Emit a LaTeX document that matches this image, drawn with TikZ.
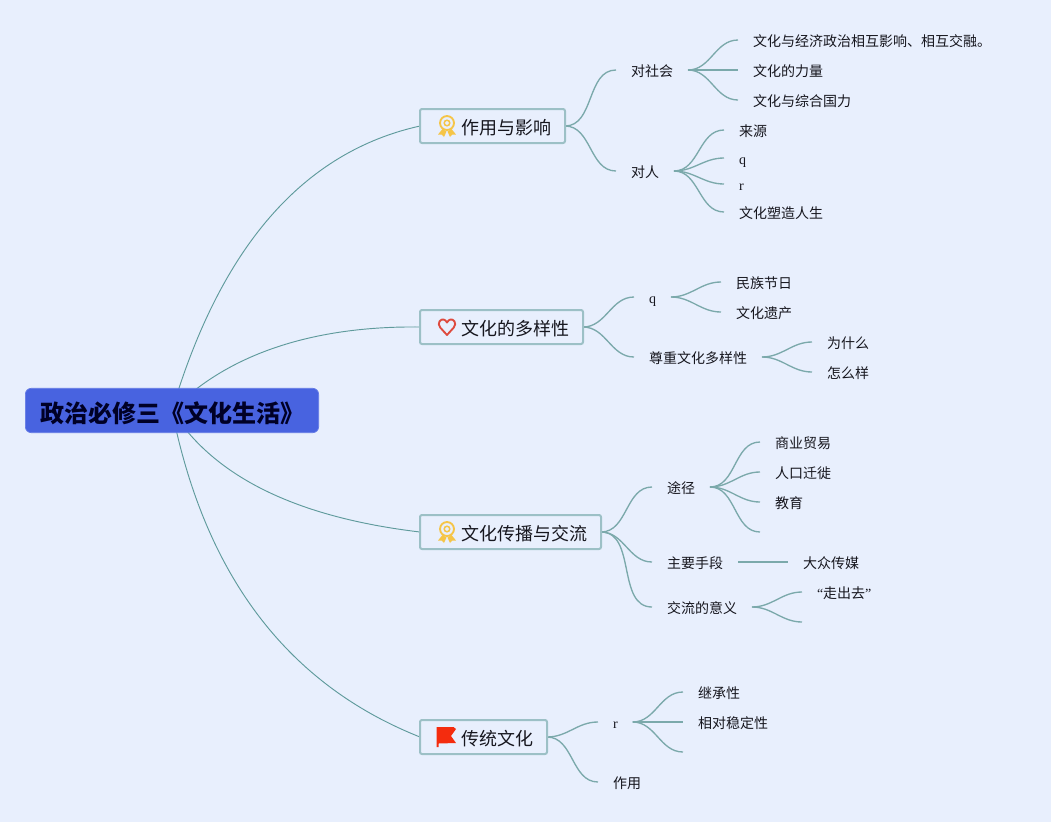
\documentclass[tikz,border=0pt]{standalone}
\usepackage{fontspec}
\usetikzlibrary{backgrounds}
\newfontfamily\cjk{Noto Sans CJK SC}
\newfontfamily\latinf{Liberation Serif}
\definecolor{bgc}{HTML}{E8EFFD}
\definecolor{linec}{HTML}{7BA9AB}
\definecolor{rootl}{HTML}{5F9A9C}
\definecolor{boxc}{HTML}{9CC0C6}
\definecolor{rootc}{HTML}{4863E0}
\definecolor{inkc}{HTML}{16161E}
\definecolor{medalc}{HTML}{F5C548}
\definecolor{heartc}{HTML}{DE4A3E}
\definecolor{flagc}{HTML}{F42C0E}
\tikzset{
  x=0.75pt,y=-0.75pt,
  conn/.style={draw=linec,line width=1pt},
  rootconn/.style={draw=rootl,line width=0.7pt},
  item/.style={anchor=west,font=\cjk\fontsize{10.5pt}{12pt}\selectfont,text=inkc,
    inner xsep=11.25pt,inner ysep=0pt,outer sep=0pt,text height=9.45pt,text depth=0pt},
  mainbox/.style={anchor=west,draw=boxc,fill=bgc,line width=1.5pt,rounded corners=1.5pt,
    font=\cjk\fontsize{13.5pt}{16pt}\selectfont,text=inkc,
    inner xsep=10.5pt,inner ysep=0pt,outer sep=0pt,minimum height=25.5pt,
    text height=13.3pt,text depth=0pt},
  rootbox/.style={draw=rootc!85!white,fill=rootc,line width=0.5pt,rounded corners=4.5pt,
    font=\cjk\bfseries\fontsize{18pt}{21pt}\selectfont,text=black!85!blue,
    inner xsep=0pt,inner ysep=0pt,outer sep=0pt,minimum height=33.3pt,minimum width=220pt,
    text height=17.4pt,text depth=0pt},
  medal/.pic={
    \draw[medalc,line width=1.4pt] (0,-3) circle[radius=7];
    \draw[medalc,line width=1.1pt] (0,-3) circle[radius=2.8];
    \fill[medalc,line join=round] (-4.5,3) -- (-9,8.5) -- (-5.2,8.6) -- (-3,11) -- (-0.5,5.5) -- cycle;
    \fill[medalc,line join=round] (4.5,3) -- (9,8.5) -- (5.2,8.6) -- (3,11) -- (0.5,5.5) -- cycle;
  },
  heartic/.pic={
    \draw[heartc,line width=1.4pt,line join=round] (0,8) -- (-6.8,0.5)
      .. controls (-10.5,-4) and (-6,-8.5) .. (-3.5,-7.5)
      .. controls (-2,-7.2) and (-0.8,-6) .. (0,-4.5)
      .. controls (0.8,-6) and (2,-7.2) .. (3.5,-7.5)
      .. controls (6,-8.5) and (10.5,-4) .. (6.8,0.5) -- cycle;
  },
  flagic/.pic={
    \fill[flagc] (-10.3,-10) -- (6.5,-10) -- (9,-8) -- (4,-1) -- (9,6) -- (-8.5,6.5)
      -- (-8.5,10) -- (-10.3,10) -- cycle;
  },
}
\newcommand{\lnk}[2]{\draw[conn] (#1) to[out=0,in=180] (#2);}
\begin{document}
\begin{tikzpicture}
\useasboundingbox (0,0) rectangle (1051,822);

% root and main topics
\node[rootbox] (root) at (172,410.5) {\hspace*{1.5pt}政治必修三《文化生活》};
\node[mainbox] (m1) at (420,126) {\hspace*{20.25pt}作用与影响};
\node[mainbox] (m2) at (420,327) {\hspace*{20.25pt}文化的多样性};
\node[mainbox] (m3) at (420,532) {\hspace*{20.25pt}文化传播与交流};
\node[mainbox] (m4) at (420,737) {\hspace*{20.25pt}传统文化};
\path (m1.west) ++(27,0) pic {medal};
\path (m2.west) ++(27,0) pic {heartic};
\path (m3.west) ++(27,0) pic {medal};
\path (m4.west) ++(27,0) pic {flagic};

% branch 1
\node[item] (a1) at (616,70) {对社会};
\node[item] (a2) at (616,171) {对人};
\node[item] (a11) at (738,40) {文化与经济政治相互影响、相互交融。};
\node[item] (a12) at (738,70) {文化的力量};
\node[item] (a13) at (738,100) {文化与综合国力};
\node[item] (a21) at (724,130) {来源};
\node[item] (a22) at (724,158) {\latinf q};
\node[item] (a23) at (724,184) {\latinf r};
\node[item] (a24) at (724,212) {文化塑造人生};

% branch 2
\node[item] (b1) at (634,297) {\latinf q};
\node[item] (b2) at (634,357) {尊重文化多样性};
\node[item] (b11) at (721,282) {民族节日};
\node[item] (b12) at (721,312) {文化遗产};
\node[item] (b21) at (812,342) {为什么};
\node[item] (b22) at (812,372) {怎么样};

% branch 3
\node[item] (c1) at (652,487) {途径};
\node[item] (c2) at (652,562) {主要手段};
\node[item] (c3) at (652,607) {交流的意义};
\node[item] (c11) at (760,442) {商业贸易};
\node[item] (c12) at (760,472) {人口迁徙};
\node[item] (c13) at (760,502) {教育};
\coordinate (c14) at (760,532);
\node[item] (c21) at (788,562) {大众传媒};
\node[item] (c31) at (802,592) {{\latinf “}走出去{\latinf ”}};
\coordinate (c32) at (802,622);

% branch 4
\node[item] (d1) at (598,722) {\latinf r};
\node[item] (d2) at (598,782) {作用};
\node[item] (d11) at (683,692) {继承性};
\node[item] (d12) at (683,722) {相对稳定性};
\coordinate (d13) at (683,752);

\begin{scope}[on background layer]
\fill[bgc] (0,0) rectangle (1051,822);
\draw[rootconn] (root.center) .. controls (220.7,246.8) and (303,152) .. (m1.west);
\draw[rootconn] (root.center) .. controls (228,353.5) and (314.3,325.7) .. (m2.west);
\draw[rootconn] (root.center) .. controls (214,476.8) and (296.3,517.3) .. (m3.west);
\draw[rootconn] (root.center) .. controls (205,575.5) and (287.3,684.3) .. (m4.west);
\lnk{m1.east}{a1.west}\lnk{m1.east}{a2.west}
\lnk{a1.east}{a11.west}\lnk{a1.east}{a12.west}\lnk{a1.east}{a13.west}
\lnk{a2.east}{a21.west}\lnk{a2.east}{a22.west}\lnk{a2.east}{a23.west}\lnk{a2.east}{a24.west}
\lnk{m2.east}{b1.west}\lnk{m2.east}{b2.west}
\lnk{b1.east}{b11.west}\lnk{b1.east}{b12.west}
\lnk{b2.east}{b21.west}\lnk{b2.east}{b22.west}
\lnk{m3.east}{c1.west}\lnk{m3.east}{c2.west}\lnk{m3.east}{c3.west}
\lnk{c1.east}{c11.west}\lnk{c1.east}{c12.west}\lnk{c1.east}{c13.west}\lnk{c1.east}{c14}
\lnk{c2.east}{c21.west}
\lnk{c3.east}{c31.west}\lnk{c3.east}{c32}
\lnk{m4.east}{d1.west}\lnk{m4.east}{d2.west}
\lnk{d1.east}{d11.west}\lnk{d1.east}{d12.west}\lnk{d1.east}{d13}
\end{scope}
\end{tikzpicture}
\end{document}
